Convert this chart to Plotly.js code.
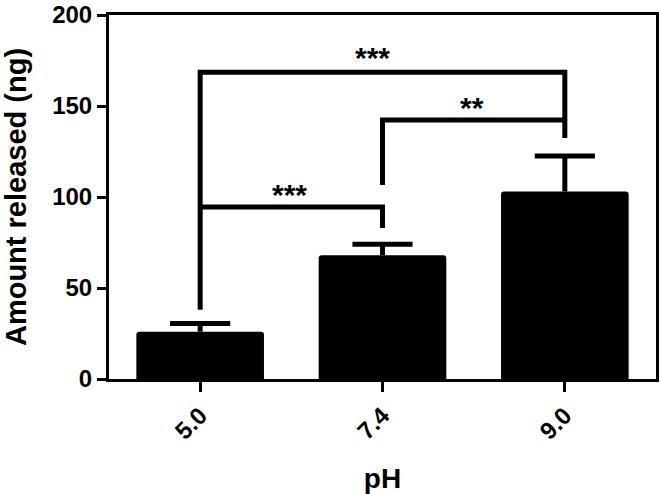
<!DOCTYPE html>
<html>
<head>
<meta charset="utf-8">
<script src="https://cdn.plot.ly/plotly-3.0.1.min.js"></script>
<style>html,body{margin:0;padding:0;background:#fff;}#chart{width:661px;height:494px;}</style>
</head>
<body>
<div id="chart"></div>
<script>
// Data
const categories = ["5.0", "7.4", "9.0"];
const amountReleased = [26, 68, 103];
const errorUpper = [4.5, 6, 19.5];

// Significance comparisons: from/to category index, bracket height, bottom of left/right legs, label
const compFrom = [0, 1, 0];
const compTo = [2, 2, 1];
const compHeight = [168.5, 142.3, 94.5];
const compLeftBottom = [38, 106.6, 94.5];
const compRightBottom = [132.4, 142.3, 83];
const compLabel = ["***", "**", "***"];

const FONT = "Liberation Sans, Arial, Helvetica, sans-serif";
const CAP_HALF = 0.165; // error-bar cap half width in category units

const traces = [{
  type: "bar",
  x: categories.map((c, i) => i),
  y: amountReleased,
  width: 0.7,
  marker: {color: "#000000", line: {width: 0}, cornerradius: 3},
  hoverinfo: "none",
  showlegend: false
}];

// upper-only error bars (T shapes) built from the data arrays
const ex = [], ey = [];
amountReleased.forEach((v, i) => {
  const top = v + errorUpper[i];
  ex.push(i, i, null, i - CAP_HALF, i + CAP_HALF, null);
  ey.push(v, top, null, top, top, null);
});
traces.push({
  type: "scatter", mode: "lines", x: ex, y: ey,
  line: {color: "#000", width: 5}, hoverinfo: "none", showlegend: false
});

const annotations = [];
for (let k = 0; k < compFrom.length; k++) {
  traces.push({
    type: "scatter", mode: "lines",
    x: [compFrom[k], compFrom[k], compTo[k], compTo[k]],
    y: [compLeftBottom[k], compHeight[k], compHeight[k], compRightBottom[k]],
    line: {color: "#000000", width: 5},
    hoverinfo: "none", showlegend: false, cliponaxis: false
  });
  annotations.push({
    x: (compFrom[k] + compTo[k]) / 2, y: compHeight[k],
    xref: "x", yref: "y", text: compLabel[k], showarrow: false,
    yanchor: "bottom", yshift: (k === 0 ? -4 : -6), xshift: (k === 0 ? -10 : -2),
    font: {family: FONT, size: 30, color: "#000", weight: "bold"}
  });
}

const layout = {
  width: 661, height: 494,
  margin: {l: 109, r: 5, t: 15, b: 115},
  paper_bgcolor: "#fff", plot_bgcolor: "#fff",
  font: {family: FONT, color: "#000"},
  xaxis: {
    range: [-0.5, 2.5], tickmode: "array", tickvals: [0, 1, 2], ticktext: categories,
    tickangle: -45, ticks: "outside", ticklen: 10, tickwidth: 3, tickcolor: "#000",
    tickfont: {family: FONT, size: 24, color: "#000", weight: "bold"},
    showline: true, linewidth: 3, linecolor: "#000", mirror: true,
    showgrid: false, zeroline: false, fixedrange: true,
    title: {text: "pH", font: {family: FONT, size: 28, color: "#000", weight: "bold"}, standoff: 27}
  },
  yaxis: {
    range: [0, 200], dtick: 50, tick0: 0,
    ticks: "outside", ticklen: 9, tickwidth: 3, tickcolor: "#000",
    tickfont: {family: FONT, size: 24, color: "#000", weight: "bold"},
    showline: true, linewidth: 3, linecolor: "#000", mirror: true,
    showgrid: false, zeroline: false, fixedrange: true,
    title: {text: "Amount released (ng)", font: {family: FONT, size: 29, color: "#000", weight: "bold"}, standoff: 20}
  },
  annotations: annotations
};

Plotly.newPlot("chart", traces, layout, {displayModeBar: false, staticPlot: true});
</script>
</body>
</html>
